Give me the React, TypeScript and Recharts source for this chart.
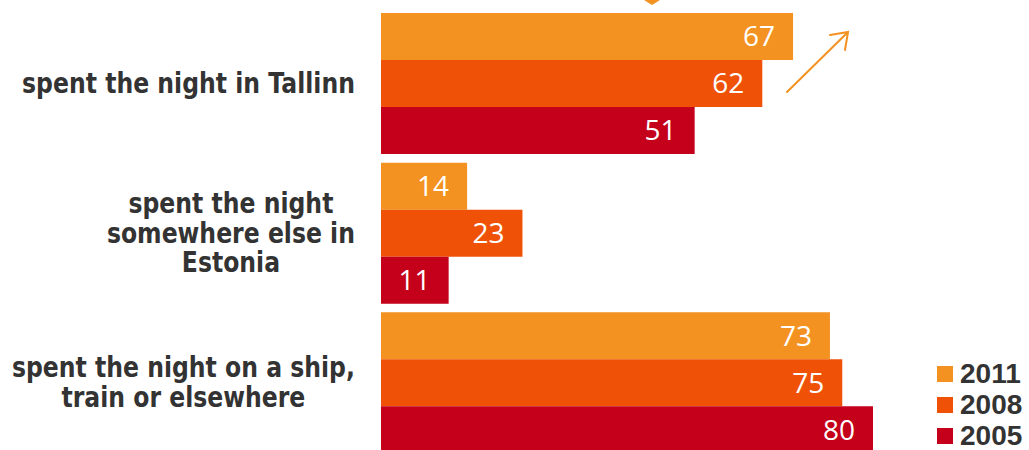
import React from "react";
import { BarChart, Bar, XAxis, YAxis, Legend, LabelList } from "recharts";

// categories, top to bottom
const categories = [
  "spent the night in Tallinn",
  "spent the night\nsomewhere else in\nEstonia",
  "spent the night on a ship,\ntrain or elsewhere",
];
const values2011 = [67, 14, 73];
const values2008 = [62, 23, 75];
const values2005 = [51, 11, 80];
const seriesNames = ["2011", "2008", "2005"];
const seriesKeys = ["y2011", "y2008", "y2005"];
const seriesColors = ["#F39220", "#EF5207", "#C5001A"];

const data = categories.map((name, i) => ({
  name,
  y2011: values2011[i],
  y2008: values2008[i],
  y2005: values2005[i],
}));

const LABEL_FONT_SIZE = 28;
const LABEL_FONT = `bold ${LABEL_FONT_SIZE}px 'DejaVu Sans'`;
const LABEL_RIGHT = 355;
const LABEL_LINE = 30;
const LABEL_TARGET_WIDTH = 333; // width of the first label line

let measureCtx: CanvasRenderingContext2D | null = null;
function measure(s: string) {
  if (!measureCtx) measureCtx = document.createElement("canvas").getContext("2d");
  if (!measureCtx) return s.length * 15;
  measureCtx.font = LABEL_FONT;
  return measureCtx.measureText(s).width;
}

function CategoryTick(props: any) {
  const { y, payload } = props;
  const lines = String(payload.value).split("\n");
  const sx = LABEL_TARGET_WIDTH / measure(categories[0]);
  const blockW = Math.max(...lines.map(measure)) * sx;
  const cx = LABEL_RIGHT - blockW / 2;
  return (
    <g transform={`translate(${cx},${y}) scale(${sx},1)`}>
      {lines.map((line, k) => (
        <text
          key={k}
          x={0}
          y={(k - (lines.length - 1) / 2) * LABEL_LINE + 9}
          textAnchor="middle"
          fontFamily="DejaVu Sans"
          fontWeight="bold"
          fontSize={LABEL_FONT_SIZE}
          fill="#333333"
        >
          {line}
        </text>
      ))}
    </g>
  );
}

const LegendBox = () => (
  <div style={{ display: "flex", flexDirection: "column" }}>
    {seriesNames.map((s, i) => (
      <div key={s} style={{ display: "flex", alignItems: "center", height: 31 }}>
        <span style={{ width: 16, height: 16, background: seriesColors[i], marginRight: 7 }} />
        <span
          style={{
            fontFamily: "'Liberation Sans', Arial, sans-serif",
            fontWeight: "bold",
            fontSize: 28,
            color: "#333333",
            lineHeight: "31px",
          }}
        >
          {s}
        </span>
      </div>
    ))}
  </div>
);

export default function App() {
  return (
    <div
      style={{
        position: "absolute",
        left: 0,
        top: 0,
        width: 1029,
        height: 450,
        overflow: "hidden",
        background: "#ffffff",
      }}
    >
      <BarChart
        width={1029}
        height={458}
        data={data}
        layout="vertical"
        margin={{ top: 9, right: 33, left: 0, bottom: 0 }}
        barGap={0}
        barSize={47}
      >
        <XAxis type="number" domain={[0, 100]} hide />
        <YAxis
          type="category"
          dataKey="name"
          width={381}
          axisLine={false}
          tickLine={false}
          tick={<CategoryTick />}
          interval={0}
        />
        <Legend
          layout="horizontal"
          verticalAlign="middle"
          align="center"
          content={() => <LegendBox />}
          wrapperStyle={{ position: "absolute", left: 937, top: 358, width: 92 }}
        />
        {seriesKeys.map((k, i) => (
          <Bar key={k} dataKey={k} name={seriesNames[i]} fill={seriesColors[i]} isAnimationActive={false}>
            <LabelList
              dataKey={k}
              position="insideRight"
              offset={18}
              fill="#ffffff"
              fontSize={28}
              fontFamily="'Open Sans', sans-serif"
            />
          </Bar>
        ))}
      </BarChart>
      <svg
        width={1029}
        height={450}
        style={{ position: "absolute", left: 0, top: 0, pointerEvents: "none" }}
      >
        <polygon points="644,0 660,0 652,5" fill="#F39220" />
        <g stroke="#F39220" strokeWidth={2} fill="none" strokeLinecap="round">
          <line x1={787} y1={92} x2={848} y2={32} />
          <polyline points="830,35 848,32 845,50" />
        </g>
      </svg>
    </div>
  );
}
